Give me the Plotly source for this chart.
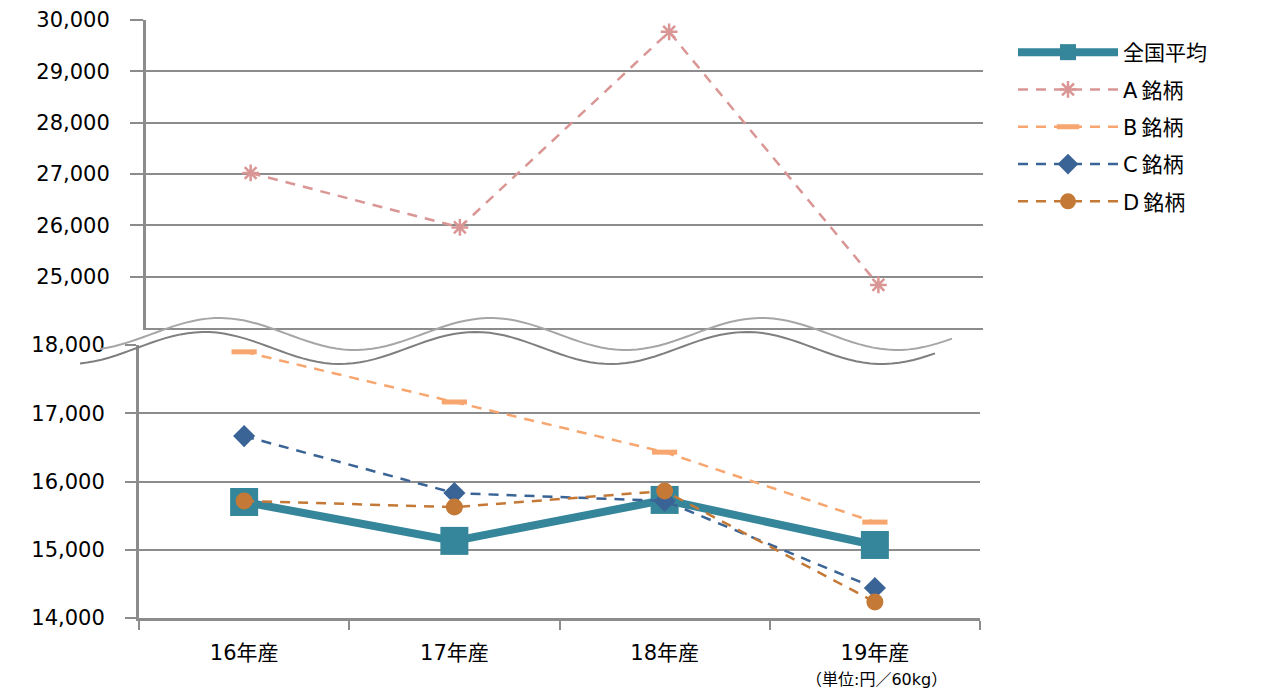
import numpy as np
import plotly.graph_objects as go

# page body adds an 8px margin; size the figure so it fits the 1275x692 window
OFF = 8
W, H = 1275 - OFF, 692 - OFF

categories = ["16年産", "17年産", "18年産", "19年産"]
national_avg = [15700, 15130, 15730, 15070]
brand_a = [27020, 25960, 29770, 24840]
brand_b = [17900, 17165, 16430, 15405]
brand_c = [16665, 15830, 15715, 14440]
brand_d = [15715, 15625, 15860, 14235]
upper_ticks = [25000, 26000, 27000, 28000, 29000, 30000]
lower_ticks = [14000, 15000, 16000, 17000, 18000]
names = ["全国平均", "A\u2009銘柄", "B\u2009銘柄", "C\u2009銘柄", "D\u2009銘柄"]


def fx(p):
    return (p - OFF) / W


def fy(p):
    return 1 - (p - OFF) / H


FONT = "DejaVu Sans, Noto Sans CJK JP"
GRID = "#8C8C8C"

fig = go.Figure()

fig.add_trace(go.Scatter(
    x=categories, y=national_avg, name=names[0], mode="lines+markers",
    line=dict(color="#35869A", width=8),
    marker=dict(symbol="square", size=28, color="#35869A"),
    xaxis="x", yaxis="y", legendgroup="g0"))
fig.add_trace(go.Scatter(
    x=categories, y=brand_a, name=names[1], mode="lines+markers",
    line=dict(color="#D99694", width=2.5, dash="10px,8px"),
    marker=dict(symbol="asterisk-open", size=14, line=dict(color="#D99694", width=2.5)),
    xaxis="x2", yaxis="y2", legendgroup="g1"))
fig.add_trace(go.Scatter(
    x=categories, y=brand_b, name=names[2], mode="lines+markers",
    line=dict(color="#F8A66F", width=2.5, dash="10px,8px"),
    marker=dict(symbol="line-ew-open", size=18, line=dict(color="#F8A66F", width=5)),
    xaxis="x", yaxis="y", legendgroup="g2"))
fig.add_trace(go.Scatter(
    x=categories, y=brand_c, name=names[3], mode="lines+markers",
    line=dict(color="#3B6496", width=2.5, dash="10px,8px"),
    marker=dict(symbol="diamond", size=17, color="#3B6496"),
    xaxis="x", yaxis="y", legendgroup="g3"))
fig.add_trace(go.Scatter(
    x=categories, y=brand_d, name=names[4], mode="lines+markers",
    line=dict(color="#C47936", width=2.5, dash="10px,8px"),
    marker=dict(symbol="circle", size=17, color="#C47936"),
    xaxis="x", yaxis="y", legendgroup="g4"))

# break waves (decoration)
shapes = []
for x0, x1, yc, amp, trough, col in [(100, 952, 334, 16, 355, "#A6A6A6"),
                                      (80, 935, 348, 16, 340, "#7F7F7F")]:
    xs = np.linspace(x0, x1, 120)
    ys = yc + amp * np.cos(2 * np.pi * (xs - trough) / 271)
    path = "M" + " L".join(f"{fx(a):.5f},{fy(b):.5f}" for a, b in zip(xs, ys))
    shapes.append(dict(type="path", path=path, xref="paper", yref="paper",
                       line=dict(color=col, width=2), layer="above"))

fig.update_layout(
    width=W, height=H,
    margin=dict(l=0, r=0, t=0, b=0, pad=0, autoexpand=False),
    paper_bgcolor="white", plot_bgcolor="white",
    font=dict(family=FONT, size=21, color="#000000"),
    showlegend=True,
    legend=dict(x=fx(1013), y=fy(32), xanchor="left", yanchor="top",
                font=dict(size=21, family=FONT), itemwidth=100,
                bgcolor="rgba(0,0,0,0)", tracegroupgap=7, traceorder="grouped"),
    xaxis=dict(domain=[fx(139), fx(980)], anchor="y", type="category",
               range=[-0.5, 3.5], showgrid=False, showline=True,
               linecolor=GRID, linewidth=3, ticks="outside", tickson="boundaries",
               ticklen=9, tickwidth=2, tickcolor=GRID, automargin=False,
               tickfont=dict(size=21, family=FONT), ticklabelstandoff=14),
    yaxis=dict(domain=[fy(618), fy(345)], anchor="x", range=[14000, 18000],
               tickvals=lower_ticks, tickformat=",d", showgrid=True,
               gridcolor=GRID, gridwidth=2, showline=True, linecolor=GRID,
               linewidth=3, ticks="outside", ticklen=11, tickwidth=2,
               tickcolor=GRID, tickfont=dict(size=21, family=FONT),
               ticklabelstandoff=16, zeroline=False, automargin=False),
    xaxis2=dict(domain=[fx(146), fx(983)], anchor="y2", type="category",
                range=[-0.5, 3.5], showgrid=False, showline=True,
                linecolor=GRID, linewidth=2, ticks="", showticklabels=False,
                automargin=False),
    yaxis2=dict(domain=[fy(328), fy(20)], anchor="x2", range=[24000, 30000],
                tickvals=upper_ticks, tickformat=",d", showgrid=True,
                gridcolor=GRID, gridwidth=2, showline=True, linecolor=GRID,
                linewidth=3, ticks="outside", ticklen=13, tickwidth=2,
                tickcolor=GRID, tickfont=dict(size=21, family=FONT),
                ticklabelstandoff=16, zeroline=False, automargin=False),
    shapes=shapes,
    annotations=[dict(text="（単位:円／60kg）", x=fx(876), y=fy(679),
                      xref="paper", yref="paper", showarrow=False,
                      xanchor="center", yanchor="middle",
                      font=dict(size=16, family=FONT))],
)

fig.write_html("out.html")
